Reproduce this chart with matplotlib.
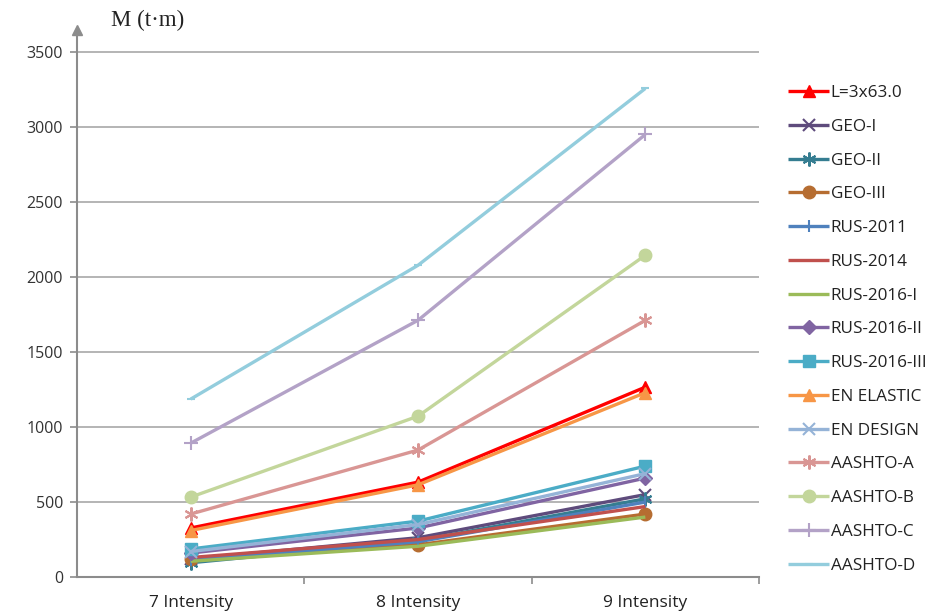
import matplotlib
matplotlib.use("Agg")
import matplotlib.pyplot as plt

# Bending moment M (t·m) by seismic intensity for each design code
categories = ["7 Intensity", "8 Intensity", "9 Intensity"]

l_3x63 = [327, 633, 1267]
geo_i = [120, 262, 550]
geo_ii = [95, 242, 522]
geo_iii = [120, 215, 420]
rus_2011 = [112, 235, 500]
rus_2014 = [130, 250, 470]
rus_2016_i = [105, 205, 400]
rus_2016_ii = [160, 327, 660]
rus_2016_iii = [187, 373, 740]
en_elastic = [310, 615, 1230]
en_design = [170, 350, 690]
aashto_a = [420, 847, 1713]
aashto_b = [533, 1073, 2147]
aashto_c = [893, 1713, 2953]
aashto_d = [1187, 2080, 3260]

series = [
    ("L=3x63.0", l_3x63, "#FF0000", "^", 9),
    ("GEO-I", geo_i, "#5E4B7C", "x", 9),
    ("GEO-II", geo_ii, "#357D91", (6, 2, 0), 10),
    ("GEO-III", geo_iii, "#B66D31", "o", 9),
    ("RUS-2011", rus_2011, "#4F81BD", "|", 9),
    ("RUS-2014", rus_2014, "#C0504D", None, 0),
    ("RUS-2016-I", rus_2016_i, "#9BBB59", None, 0),
    ("RUS-2016-II", rus_2016_ii, "#8064A2", "D", 7),
    ("RUS-2016-III", rus_2016_iii, "#4BACC6", "s", 9),
    ("EN ELASTIC", en_elastic, "#F79646", "^", 9),
    ("EN DESIGN", en_design, "#95B3D7", "x", 9),
    ("AASHTO-A", aashto_a, "#D99694", (6, 2, 0), 10),
    ("AASHTO-B", aashto_b, "#C3D69B", "o", 9),
    ("AASHTO-C", aashto_c, "#B3A2C7", "+", 10),
    ("AASHTO-D", aashto_d, "#93CDDD", "_", 6),
]

fig = plt.figure(figsize=(9.4, 6.12), dpi=100)
ax = fig.add_axes([77 / 940, 35 / 612, (759 - 77) / 940, (577 - 30) / 612])

x = list(range(len(categories)))
for name, vals, color, marker, ms in series:
    thin = marker in ("x", "+", "|", "_") or isinstance(marker, tuple)
    ax.plot(x, vals, color=color, lw=2.4, marker=marker, markersize=ms,
            markeredgewidth=1.5 if thin else 1.0,
            markeredgecolor=color, markerfacecolor=color, label=name,
            solid_joinstyle="round", solid_capstyle="butt")

ax.set_xlim(-0.5, 2.5)
ax.set_ylim(0, 3650)
ax.set_yticks(range(0, 3501, 500))
ax.set_xticks(x)
ax.set_xticklabels(categories)
ax.set_xticks([0.5, 1.5, 2.5], minor=True)

ax.yaxis.grid(True, color="#B4B4B4", lw=1.4)
ax.set_axisbelow(True)

for s in ("top", "right"):
    ax.spines[s].set_visible(False)
for s in ("left", "bottom"):
    ax.spines[s].set_color("#8C8C8C")
    ax.spines[s].set_linewidth(1.5)

ax.tick_params(axis="y", which="major", length=5, width=1.2, color="#8C8C8C",
               labelsize=11.5, labelcolor="#333333", pad=5)
ax.tick_params(axis="x", which="major", length=0, labelsize=12.5,
               labelcolor="#222222", pad=13)
ax.tick_params(axis="x", which="minor", length=5, width=1.2, color="#8C8C8C")
for lbl in ax.get_xticklabels() + ax.get_yticklabels():
    lbl.set_family("Open Sans")

# arrowhead on top of the value axis
ax.plot([-0.5], [3650], marker="^", color="#8C8C8C", markersize=7,
        clip_on=False, zorder=5)

fig.text(111 / 940, 1 - 20 / 612, "M (t·m)", family="Liberation Serif",
         fontsize=16.5, color="#222222", va="center", ha="left")

leg = ax.legend(loc="upper left", bbox_to_anchor=(788 / 940, 1 - 85 / 612),
                bbox_transform=fig.transFigure, frameon=False,
                prop={"family": "Open Sans", "size": 12.3},
                handlelength=2.4, handletextpad=0.1, labelspacing=1.04,
                borderaxespad=0, borderpad=0)
for t in leg.get_texts():
    t.set_color("#222222")

fig.savefig("out.png", dpi=100, facecolor="white")
